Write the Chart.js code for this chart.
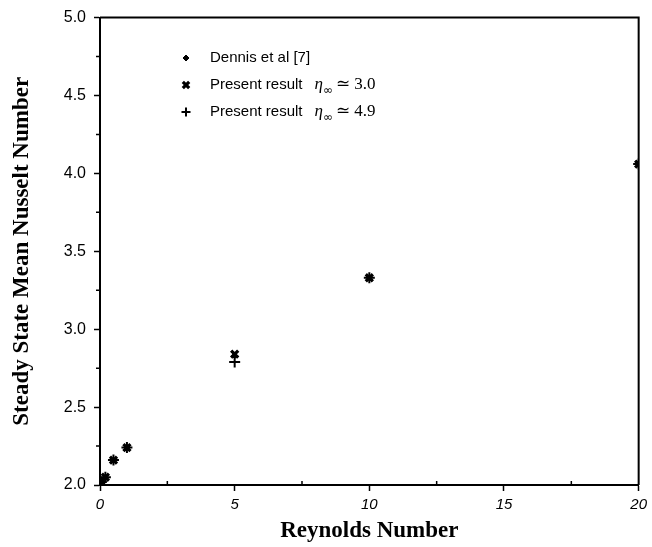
<!DOCTYPE html>
<html>
<head>
<meta charset="utf-8">
<script src="https://cdn.jsdelivr.net/npm/chart.js@4.4.1/dist/chart.umd.min.js"></script>
<style>
  html, body { margin: 0; padding: 0; background: #fff; }
</style>
</head>
<body>
<canvas id="nusseltChart" width="652" height="547"></canvas>
<script>
// values
const reynolds = [0.05, 0.2, 0.5, 1, 5, 10, 20];
const nuEta30 = [2.02, 2.05, 2.16, 2.24, 2.84, 3.33, 4.06];
const nuEta49 = [2.02, 2.05, 2.16, 2.24, 2.79, 3.33, 4.06];
const dennisRe = [1, 5, 10, 20];
const nuDennis = [2.24, 2.83, 3.33, 4.06];
const xTicks = [0, 5, 10, 15, 20];
const yTicks = [2.0, 2.5, 3.0, 3.5, 4.0, 4.5, 5.0];
const seriesLabels = ['Dennis et al [7]', 'Present result', 'Present result'];
const etaValues = [null, '3.0', '4.9'];

const toPoints = (xs, ys) => xs.map((x, i) => ({ x: x, y: ys[i] }));

// top/right frame plus small minor ticks between the labelled ones
const framePlugin = {
  id: 'frame',
  afterDraw(chart) {
    const { ctx, chartArea: a, scales } = chart;
    ctx.save();
    ctx.strokeStyle = '#000';
    ctx.lineWidth = 2;
    ctx.beginPath();
    ctx.moveTo(a.left, a.top);
    ctx.lineTo(a.right, a.top);
    ctx.lineTo(a.right, a.bottom);
    ctx.stroke();
    ctx.lineWidth = 1.5;
    ctx.beginPath();
    for (let i = 0; i < xTicks.length - 1; i++) {
      const px = scales.x.getPixelForValue((xTicks[i] + xTicks[i + 1]) / 2);
      ctx.moveTo(px, a.bottom);
      ctx.lineTo(px, a.bottom - 4);
    }
    for (let i = 0; i < yTicks.length - 1; i++) {
      const py = scales.y.getPixelForValue((yTicks[i] + yTicks[i + 1]) / 2);
      ctx.moveTo(a.left, py);
      ctx.lineTo(a.left - 4, py);
    }
    ctx.stroke();
    ctx.restore();
  }
};

// legend drawn inside the plot, using each dataset's own point style
const insideLegend = {
  id: 'insideLegend',
  afterDraw(chart) {
    const { ctx } = chart;
    const x0 = 186, y0 = 58, rowGap = 27;
    ctx.save();
    ctx.textBaseline = 'middle';
    chart.data.datasets.forEach((ds, i) => {
      const y = y0 + i * rowGap;
      ctx.strokeStyle = '#000';
      ctx.fillStyle = '#000';
      ctx.lineWidth = ds.borderWidth;
      Chart.helpers.drawPoint(ctx, {
        pointStyle: ds.pointStyle,
        radius: ds.pointStyle === 'rectRot' ? 3 : 4.5,
        borderWidth: ds.borderWidth,
        rotation: 0
      }, x0, y);
      ctx.font = '15px "Liberation Sans", Arial, sans-serif';
      ctx.fillText(ds.label, x0 + 24, y);
      if (etaValues[i]) {
        let tx = x0 + 24 + ctx.measureText(ds.label).width + 12;
        ctx.font = 'italic 17px "Liberation Serif", serif';
        ctx.fillText('\u03B7', tx, y);
        tx += ctx.measureText('\u03B7').width;
        ctx.font = '12px "DejaVu Sans", sans-serif';
        ctx.fillText('\u221E', tx, y + 6);
        tx += ctx.measureText('\u221E').width + 3;
        ctx.font = '17px "Liberation Serif", serif';
        ctx.fillText('\u2243 ' + etaValues[i], tx, y);
      }
    });
    ctx.restore();
  }
};

new Chart(document.getElementById('nusseltChart').getContext('2d'), {
  type: 'scatter',
  data: {
    datasets: [
      {
        label: seriesLabels[0],
        data: toPoints(dennisRe, nuDennis),
        pointStyle: 'rectRot',
        pointRadius: 3,
        borderWidth: 1,
        backgroundColor: '#000',
        borderColor: '#000'
      },
      {
        label: seriesLabels[1],
        data: toPoints(reynolds, nuEta30),
        pointStyle: 'crossRot',
        pointRadius: 5,
        borderWidth: 3.2,
        backgroundColor: '#000',
        borderColor: '#000'
      },
      {
        label: seriesLabels[2],
        data: toPoints(reynolds, nuEta49),
        pointStyle: 'cross',
        pointRadius: 5.5,
        borderWidth: 2,
        backgroundColor: '#000',
        borderColor: '#000'
      }
    ]
  },
  options: {
    responsive: false,
    animation: false,
    layout: { padding: { top: 17, right: 12, left: 0, bottom: 0 } },
    plugins: {
      legend: { display: false },
      tooltip: { enabled: false }
    },
    scales: {
      x: {
        type: 'linear',
        min: 0,
        max: 20,
        afterFit(scale) { scale.height = 62; },
        afterBuildTicks(scale) { scale.ticks = xTicks.map(v => ({ value: v })); },
        border: { color: '#000', width: 2 },
        grid: { drawOnChartArea: false, color: '#000', tickLength: 6, tickWidth: 1.5 },
        ticks: {
          color: '#000',
          padding: 5,
          font: { family: '"Liberation Sans", Arial, sans-serif', size: 15, style: 'italic' },
          callback: v => String(v)
        },
        title: {
          display: true,
          text: 'Reynolds Number',
          color: '#000',
          padding: { top: 0, bottom: 2 },
          font: { family: '"Liberation Serif", "Times New Roman", serif', size: 23, weight: 'bold' }
        }
      },
      y: {
        type: 'linear',
        min: 2,
        max: 5,
        afterFit(scale) { scale.width = 100; },
        afterBuildTicks(scale) { scale.ticks = yTicks.map(v => ({ value: v })); },
        border: { color: '#000', width: 2 },
        grid: { drawOnChartArea: false, color: '#000', tickLength: 6, tickWidth: 1.5 },
        ticks: {
          color: '#000',
          padding: 8,
          font: { family: '"Liberation Sans", Arial, sans-serif', size: 16 },
          callback: v => v.toFixed(1)
        },
        title: {
          display: true,
          text: 'Steady State Mean Nusselt Number',
          color: '#000',
          padding: { top: 8, bottom: 0 },
          font: { family: '"Liberation Serif", "Times New Roman", serif', size: 23, weight: 'bold' }
        }
      }
    }
  },
  plugins: [framePlugin, insideLegend]
});
</script>
</body>
</html>
